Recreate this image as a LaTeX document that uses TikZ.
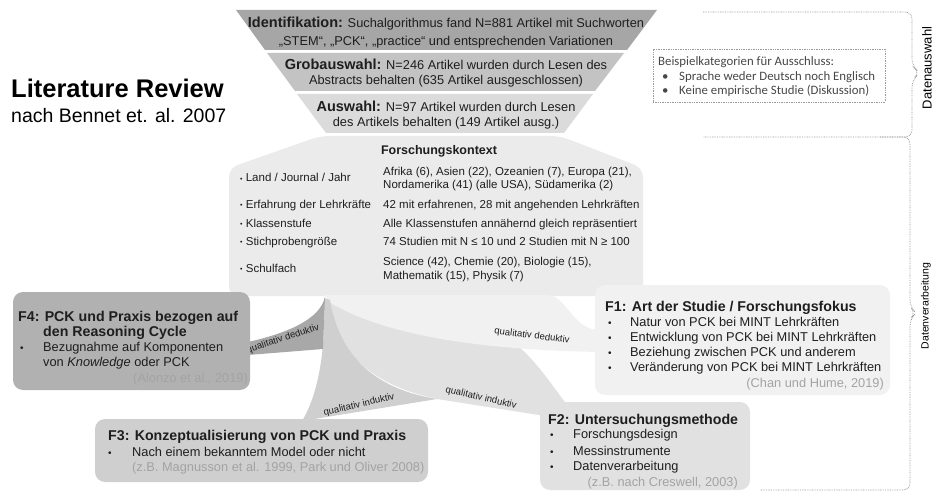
\documentclass[tikz,border=0pt]{standalone}
\usepackage{fontspec}
\setmainfont{Liberation Sans}
\newfontfamily\calibri{Carlito}

\definecolor{stufeA}{HTML}{A6A6A6}
\definecolor{stufeB}{HTML}{C3C3C3}
\definecolor{stufeC}{HTML}{DBDBDB}
\definecolor{kontext}{HTML}{EBEBEB}
\definecolor{fEins}{HTML}{F1F1F1}
\definecolor{fZwei}{HTML}{E1E1E1}
\definecolor{fDrei}{HTML}{CFCFCF}
\definecolor{fVier}{HTML}{B1B1B1}
\definecolor{bandVier}{HTML}{A8A8A8}
\definecolor{zitat}{HTML}{A3A3A3}
\definecolor{punkte}{HTML}{9A9A9A}
\definecolor{schrift}{HTML}{1E1E1E}

\tikzset{
  kasten/.style={rectangle, rounded corners=10pt, inner sep=0pt},
  stufe/.style={anchor=base, inner sep=0pt, text=schrift, font=\fontsize{12.8}{15}\selectfont},
  titel/.style={anchor=base west, inner sep=0pt, text=schrift, font=\bfseries\fontsize{14.2}{16}\selectfont},
  punkt/.style={anchor=base west, inner sep=0pt, text=schrift, font=\fontsize{12.8}{15}\selectfont},
  quelle/.style={inner sep=0pt, text=zitat, font=\fontsize{12.8}{15}\selectfont},
  klein/.style={anchor=base west, inner sep=0pt, text=schrift, font=\fontsize{11.5}{13}\selectfont},
  band/.style={inner sep=0pt, text=schrift, font=\fontsize{9.5}{10}\selectfont},
  rahmen/.style={draw=punkte, line width=0.7pt, dash pattern=on 0.8pt off 0.9pt},
  hinweis/.style={anchor=base west, inner sep=0pt, text=black!72, font=\calibri\fontsize{12.8}{14}\selectfont},
}

\newcommand{\kpunkt}{{\fontsize{7}{7}\selectfont\raisebox{0.2ex}{•}}}
\newcommand{\fpunkt}{{\fontsize{10}{10}\selectfont •}}

\begin{document}
\begin{tikzpicture}[x=1pt, y=-1pt]
\useasboundingbox (0,0) rectangle (935,492);

% Trichter
\fill[stufeA] (236,10) -- (657,10) -- (627,50) -- (265,50) -- cycle;
\fill[stufeB] (267,53) -- (624,53) -- (595,91) -- (295,91) -- cycle;
\fill[stufeC] (297,94) -- (593,94) -- (564,133) -- (326,133) -- cycle;

\node[stufe] (ident) at (446,28) {{\bfseries\fontsize{14.5}{15}\selectfont Identifikation:} Suchalgorithmus fand N=881 Artikel mit Suchworten};
\node[stufe] (identb) at (446,46) {„STEM“, „PCK“, „practice“ und entsprechenden Variationen};
\node[stufe] (grob) at (446,70) {{\bfseries\fontsize{14.5}{15}\selectfont Grobauswahl:} N=246 Artikel wurden durch Lesen des};
\node[stufe] (grobb) at (446,85) {Abstracts behalten (635 Artikel ausgeschlossen)};
\node[stufe] (auswahl) at (446,112) {{\bfseries\fontsize{14.5}{15}\selectfont Auswahl:} N=97 Artikel wurden durch Lesen};
\node[stufe] (auswahlb) at (446,127) {des Artikels behalten (149 Artikel ausg.)};

% Titel
\node[anchor=base west, inner sep=0pt, font=\bfseries\fontsize{25.5}{28}\selectfont] (titel) at (11,98) {Literature Review};
\node[anchor=base west, inner sep=0pt, font=\fontsize{19.5}{22}\selectfont] (untertitel) at (11,123) {nach Bennet et. al. 2007};

% Forschungskontext
\fill[kontext, rounded corners=9pt] (320,136) -- (560,136) -- (643,168) -- (643,296) -- (229,296) -- (229,168) -- cycle;

\node[anchor=base, inner sep=0pt, text=schrift, font=\bfseries\fontsize{12.5}{14}\selectfont] (kontitel) at (439,155) {Forschungskontext};

\node[klein] (land) at (240,182) {\kpunkt\ Land / Journal / Jahr};
\node[klein] (erfahrung) at (240,208) {\kpunkt\ Erfahrung der Lehrkräfte};
\node[klein] (stufe) at (240,227) {\kpunkt\ Klassenstufe};
\node[klein] (stichprobe) at (240,245) {\kpunkt\ Stichprobengröße};
\node[klein] (fach) at (240,272) {\kpunkt\ Schulfach};

\node[klein] (landw) at (383,176) {Afrika (6), Asien (22), Ozeanien (7), Europa (21),};
\node[klein] (landwb) at (383,189) {Nordamerika (41) (alle USA), Südamerika (2)};
\node[klein] (erfahrungw) at (383,208) {42 mit erfahrenen, 28 mit angehenden Lehrkräften};
\node[klein] (stufew) at (383,227) {Alle Klassenstufen annähernd gleich repräsentiert};
\node[klein] (stichprobew) at (383,245) {74 Studien mit N ≤ 10 und 2 Studien mit N ≥ 100};
\node[klein] (fachw) at (383,265) {Science (42), Chemie (20), Biologie (15),};
\node[klein] (fachwb) at (383,279) {Mathematik (15), Physik (7)};

% Baender
\fill[fZwei] (326,298) .. controls (380,325) and (460,342) .. (518,346) .. controls (540,365) and (555,390) .. (568,406) -- (545,416) -- (437,399) .. controls (370,385) and (335,350) .. (326,298) -- cycle;
\fill[fEins] (325,295) -- (547,295) .. controls (568,296) and (572,330) .. (600,330) -- (600,352) .. controls (480,350) and (380,335) .. (326,300) -- cycle;
\fill[fDrei] (324,298) .. controls (326,350) and (318,395) .. (302,421) -- (437,399) .. controls (380,390) and (340,360) .. (330,300) -- cycle;
\fill[bandVier] (325,297) -- (323,349) -- (248,355) -- (248,342) .. controls (292,332) and (320,318) .. (325,297) -- cycle;

\node[band, rotate=18] (q4) at (283,339) {qualitativ deduktiv};
\node[band, rotate=-7] (q1) at (532,336) {qualitativ deduktiv};
\node[band, rotate=13] (q3) at (359,405) {qualitativ induktiv};
\node[band, rotate=-13] (q2) at (481,398) {qualitativ induktiv};

% Kaesten
\node[kasten, fill=fVier, minimum width=237, minimum height=98] (f4) at (131.5,341) {};
\node[kasten, fill=fEins, minimum width=295, minimum height=110] (f1) at (742.5,340) {};
\node[kasten, fill=fDrei, minimum width=333, minimum height=63] (f3) at (261.5,450.5) {};
\node[kasten, fill=fZwei, minimum width=210, minimum height=88] (f2) at (645,446) {};

% F4
\node[titel] (f4t) at (18,321) {F4: PCK und Praxis bezogen auf};
\node[titel] (f4tb) at (43,336) {den Reasoning Cycle};
\node[punkt] (f4pa) at (20,351.5) {\fpunkt};
\node[punkt] (f4a) at (43,351.5) {Bezugnahme auf Komponenten};
\node[punkt] (f4b) at (43,366.5) {von \textit{Knowledge} oder PCK};
\node[quelle, anchor=base east] (f4q) at (248,382.5) {(Alonzo et al., 2019)};

% F1
\node[titel] (f1t) at (605,311) {F1: Art der Studie / Forschungsfokus};
\foreach \y/\txt [count=\i] in {326.5/Natur von PCK bei MINT Lehrkräften,
    341.5/Entwicklung von PCK bei MINT Lehrkräften,
    356.5/Beziehung zwischen PCK und anderem,
    371.5/Veränderung von PCK bei MINT Lehrkräften} {
  \node[punkt] (f1p\i) at (608,\y) {\fpunkt};
  \node[punkt] (f1x\i) at (630,\y) {\txt};
}
\node[quelle, anchor=base east] (f1q) at (884,387.5) {(Chan und Hume, 2019)};

% F3
\node[titel] (f3t) at (108,440) {F3: Konzeptualisierung von PCK und Praxis};
\node[punkt] (f3p) at (108,456.5) {\fpunkt};
\node[punkt] (f3a) at (132,456.5) {Nach einem bekanntem Model oder nicht};
\node[quelle, anchor=base west] (f3q) at (132,471.5) {(z.B. Magnusson et al. 1999, Park und Oliver 2008)};

% F2
\node[titel] (f2t) at (548,424) {F2: Untersuchungsmethode};
\foreach \y/\txt [count=\i] in {438.5/Forschungsdesign, 455.5/Messinstrumente, 470.5/Datenverarbeitung} {
  \node[punkt] (f2p\i) at (550,\y) {\fpunkt};
  \node[punkt] (f2x\i) at (573,\y) {\txt};
}
\node[quelle, anchor=base east] (f2q) at (738,486.5) {(z.B. nach Creswell, 2003)};

% Ausschluss
\node[rahmen, rectangle, minimum width=232, minimum height=53, inner sep=0pt] (beispiel) at (769,75.5) {};
\node[hinweis] (bsptitel) at (658,66) {Beispielkategorien für Ausschluss:};
\node[hinweis] (bsppa) at (662,81) {•};
\node[hinweis] (bspa) at (679,81) {Sprache weder Deutsch noch Englisch};
\node[hinweis] (bsppb) at (662,95) {•};
\node[hinweis] (bspb) at (679,95) {Keine empirische Studie (Diskussion)};

% Klammern
\draw[rahmen, rounded corners=7pt] (703,12) -- (912,12) -- (912,66) -- (920,73) -- (912,80) -- (912,137) -- (703,137);
\draw[rahmen, rounded corners=7pt] (880,137) -- (910,137) -- (910,307) -- (916,313) -- (910,319) -- (910,490) -- (760,490);
\node[rotate=90, inner sep=0pt, font=\fontsize{13}{13}\selectfont] (datenauswahl) at (927,68) {Datenauswahl};
\node[rotate=90, inner sep=0pt, font=\fontsize{10.5}{11}\selectfont] (datenverarb) at (926,306) {Datenverarbeitung};

\end{tikzpicture}
\end{document}
